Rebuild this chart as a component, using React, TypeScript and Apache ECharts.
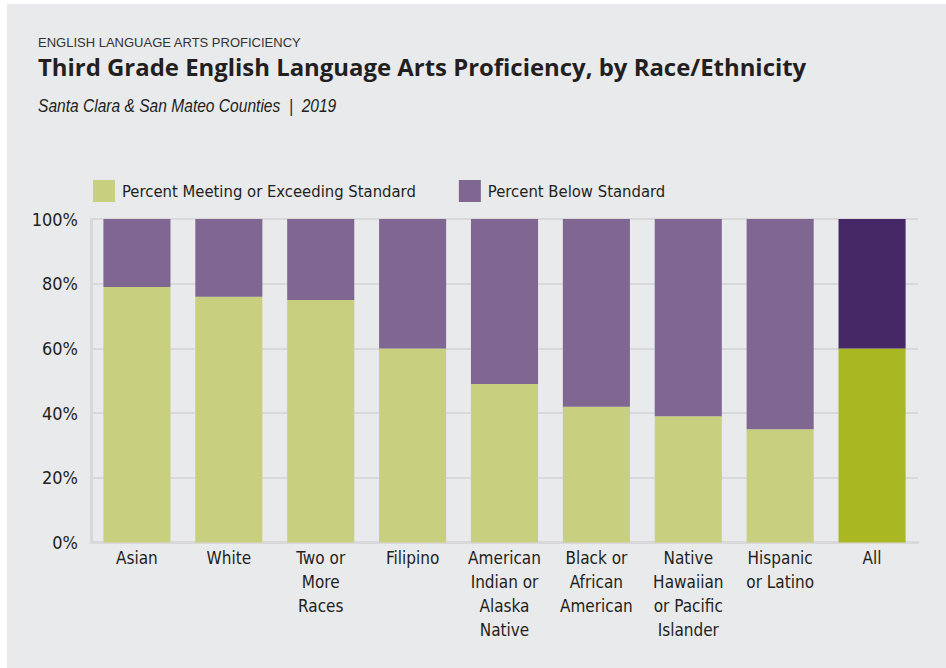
import React, { useEffect, useRef } from "react";
import * as echarts from "echarts";

const categories = [
  "Asian",
  "White",
  "Two or\nMore\nRaces",
  "Filipino",
  "American\nIndian or\nAlaska\nNative",
  "Black or\nAfrican\nAmerican",
  "Native\nHawaiian\nor Pacific\nIslander",
  "Hispanic\nor Latino",
  "All",
];
const meetingValues = [79, 76, 75, 60, 49, 42, 39, 35, 60];
const belowValues = [21, 24, 25, 40, 51, 58, 61, 65, 40];
const yTicks = [0, 20, 40, 60, 80, 100];

const seriesNames = ["Percent Meeting or Exceeding Standard", "Percent Below Standard"];
const C_MEET = "#c8cf7e";
const C_BELOW = "#7f6792";
const C_MEET_ALL = "#a9b723";
const C_BELOW_ALL = "#472866";
const COND = '"DejaVu Sans Condensed", sans-serif';

export default function App() {
  const ref = useRef<HTMLDivElement>(null);
  useEffect(() => {
    const chart = echarts.init(ref.current!, null, { renderer: "svg" });
    const last = categories.length - 1;
    chart.setOption({
      animation: false,
      backgroundColor: "#ffffff",
      graphic: [
        { type: "rect", z: -10, shape: { x: 7, y: 4, width: 939, height: 664 }, style: { fill: "#e9eaec" } },
        { type: "text", x: 38, y: 36, style: { text: "ENGLISH LANGUAGE ARTS PROFICIENCY", font: '13px "Liberation Sans", sans-serif', fill: "#333333" } },
        { type: "text", x: 38, y: 56, scaleX: 1.04, style: { text: "Third Grade English Language Arts Proficiency, by Race/Ethnicity", font: 'bold 23px "Open Sans", sans-serif', fill: "#231f20" } },
        { type: "text", x: 38, y: 96, scaleX: 0.82, style: { text: "Santa Clara & San Mateo Counties  |  2019", font: 'italic 19px "Liberation Sans", sans-serif', fill: "#231f20" } },
      ],
      legend: {
        left: 93,
        top: 180,
        padding: 0,
        itemWidth: 22,
        itemHeight: 22,
        itemGap: 43,
        icon: "rect",
        textStyle: { fontFamily: COND, fontSize: 16.5, color: "#231f20", padding: [0, 0, 0, 2] },
        data: seriesNames,
      },
      grid: { left: 91, right: 28, top: 219, bottom: 125.5, containLabel: false },
      xAxis: {
        type: "category",
        data: categories,
        axisLine: { show: true, lineStyle: { color: "#d9d9db", width: 3 } },
        axisTick: { show: false },
        axisLabel: { fontFamily: COND, fontSize: 17, color: "#231f20", lineHeight: 24, margin: 3.5, interval: 0 },
      },
      yAxis: {
        type: "value",
        min: 0,
        max: 100,
        interval: 20,
        axisLine: { show: true, lineStyle: { color: "#d9d9db", width: 3 } },
        axisTick: { show: false },
        splitLine: { show: true, lineStyle: { color: "#d9d9db", width: 2 } },
        axisLabel: {
          fontFamily: COND,
          fontSize: 18,
          color: "#231f20",
          margin: 13,
          formatter: (v: number) => (yTicks.includes(v) ? v + "%" : ""),
        },
      },
      series: [
        {
          name: seriesNames[0],
          type: "bar",
          stack: "total",
          barWidth: "73%",
          itemStyle: { color: C_MEET },
          data: meetingValues.map((v, i) => (i === last ? { value: v, itemStyle: { color: C_MEET_ALL } } : v)),
        },
        {
          name: seriesNames[1],
          type: "bar",
          stack: "total",
          barWidth: "73%",
          itemStyle: { color: C_BELOW },
          data: belowValues.map((v, i) => (i === last ? { value: v, itemStyle: { color: C_BELOW_ALL } } : v)),
        },
      ],
    });
    return () => chart.dispose();
  }, []);
  return (
    <div ref={ref} style={{ position: "fixed", left: 0, top: 0, width: 946, height: 668 }} />
  );
}
